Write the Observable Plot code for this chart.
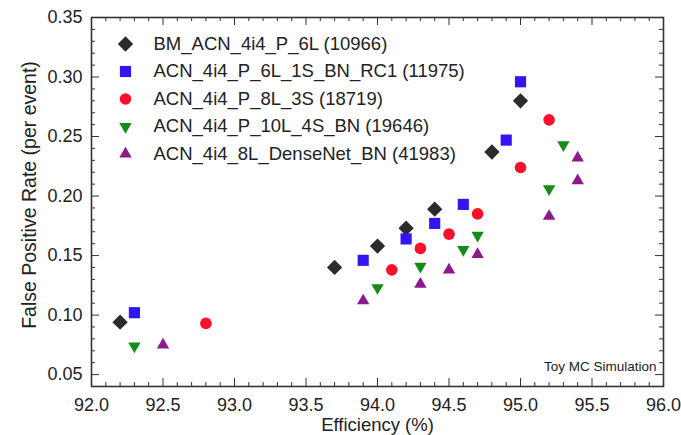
<!DOCTYPE html>
<html><head><meta charset="utf-8">
<script src="https://cdn.jsdelivr.net/npm/d3@7"></script>
<script src="https://cdn.jsdelivr.net/npm/@observablehq/plot@0.6"></script>
<style>body{margin:0;background:#fff;}</style>
</head><body><div id="chart"></div>
<script>
// ---- data ----
const seriesNames = [
  "BM_ACN_4i4_P_6L (10966)",
  "ACN_4i4_P_6L_1S_BN_RC1 (11975)",
  "ACN_4i4_P_8L_3S (18719)",
  "ACN_4i4_P_10L_4S_BN (19646)",
  "ACN_4i4_8L_DenseNet_BN (41983)"
];
const seriesColors = ["#2b2b2b", "#3116f2", "#ff0f2b", "#168c16", "#8a1a8e"];

const bmX = [92.2, 93.7, 94.0, 94.2, 94.4, 94.8, 95.0];
const bmY = [0.094, 0.140, 0.158, 0.173, 0.189, 0.237, 0.280];

const rc1X = [92.3, 93.9, 94.2, 94.4, 94.6, 94.9, 95.0];
const rc1Y = [0.102, 0.146, 0.164, 0.177, 0.193, 0.247, 0.296];

const s3X = [92.8, 94.1, 94.3, 94.5, 94.7, 95.0, 95.2];
const s3Y = [0.093, 0.138, 0.156, 0.168, 0.185, 0.224, 0.264];

const s4X = [92.3, 94.0, 94.3, 94.6, 94.7, 95.2, 95.3];
const s4Y = [0.074, 0.123, 0.141, 0.155, 0.167, 0.206, 0.243];

const dnX = [92.5, 93.9, 94.3, 94.5, 94.7, 95.2, 95.4, 95.4];
const dnY = [0.075, 0.112, 0.126, 0.138, 0.151, 0.183, 0.213, 0.232];

const xMajor = [92.0, 92.5, 93.0, 93.5, 94.0, 94.5, 95.0, 95.5, 96.0];
const yMajor = [0.05, 0.10, 0.15, 0.20, 0.25, 0.30, 0.35];
const xMinor = d3.range(920, 961, 1).filter(v => v % 5 !== 0).map(v => v / 10);
const yMinor = d3.range(4, 36, 1).filter(v => v % 5 !== 0).map(v => v / 100);

const xTitle = "Efficiency (%)";
const yTitle = "False Positive Rate (per event)";
const note = "Toy MC Simulation";

// ---- styles ----
const W = 681, H = 435;
const mL = 91, mR = 18, mT = 17, mB = 49;
const pw = W - mL - mR, ph = H - mT - mB;
const font = "Liberation Sans, Arial, Helvetica, sans-serif";
const ink = "#222";
const frameInk = "#333";

const seriesData = [[bmX, bmY], [rc1X, rc1Y], [s3X, s3Y], [s4X, s4Y], [dnX, dnY]]
  .map(([xs, ys]) => xs.map((x, i) => ({x, y: ys[i]})));
const symbolStyle = [
  {symbol: "square", rotate: 45, r: 6.1},
  {symbol: "square", rotate: 0, r: 6.3},
  {symbol: "circle", rotate: 0, r: 5.8},
  {symbol: "triangle", rotate: 180, r: 4.6},
  {symbol: "triangle", rotate: 0, r: 4.6}
];

const marks = [];
// ticks (inward, on all four sides)
const tk = (len, vals) => [
  Plot.tickX(vals, {x: d => d, insetTop: ph - len, stroke: frameInk, strokeWidth: 1}),
  Plot.tickX(vals, {x: d => d, insetBottom: ph - len, stroke: frameInk, strokeWidth: 1})
];
const tky = (len, vals) => [
  Plot.tickY(vals, {y: d => d, insetRight: pw - len, stroke: frameInk, strokeWidth: 1}),
  Plot.tickY(vals, {y: d => d, insetLeft: pw - len, stroke: frameInk, strokeWidth: 1})
];
marks.push(...tk(8, xMajor), ...tk(4, xMinor), ...tky(8, yMajor), ...tky(4, yMinor));
marks.push(Plot.frame({stroke: frameInk, strokeWidth: 1.6}));

// tick labels
marks.push(Plot.axisX(xMajor, {tickSize: 0, tickPadding: 12, tickFormat: d => d.toFixed(1), fontSize: 18, color: ink, label: null}));
marks.push(Plot.axisY(yMajor, {tickSize: 0, tickPadding: 9, tickFormat: d => d.toFixed(2), fontSize: 18, color: ink, label: null}));

// data points
seriesData.forEach((data, i) => {
  marks.push(Plot.dot(data, {x: "x", y: "y", fill: seriesColors[i], stroke: "none", ...symbolStyle[i]}));
});

// legend
seriesNames.forEach((name, i) => {
  marks.push(Plot.dot([name], {frameAnchor: "top-left", dx: 34, dy: 26.5 + i * 27.5, fill: seriesColors[i], stroke: "none", ...symbolStyle[i]}));
  marks.push(Plot.text([name], {frameAnchor: "top-left", dx: 62, dy: 26.5 + i * 27.5, text: d => d, textAnchor: "start", lineAnchor: "middle", fontSize: 18.5, fill: ink}));
});

// titles / note
marks.push(Plot.text([xTitle], {frameAnchor: "bottom", dy: 39, text: d => d, textAnchor: "middle", lineAnchor: "middle", fontSize: 18.5, fill: ink}));
marks.push(Plot.text([yTitle], {frameAnchor: "left", dx: -62, dy: -7, rotate: -90, text: d => d, textAnchor: "middle", lineAnchor: "middle", fontSize: 19.5, fill: ink}));
marks.push(Plot.text([note], {frameAnchor: "bottom-right", dx: -7, dy: -20, text: d => d, textAnchor: "end", lineAnchor: "middle", fontSize: 13.5, fill: ink}));

const chart = Plot.plot({
  width: W, height: H,
  marginLeft: mL, marginRight: mR, marginTop: mT, marginBottom: mB,
  style: {fontFamily: font, background: "#fff"},
  x: {domain: [92, 96], axis: null},
  y: {domain: [0.04, 0.35], axis: null},
  marks
});
document.getElementById("chart").appendChild(chart);
</script>
</body></html>
